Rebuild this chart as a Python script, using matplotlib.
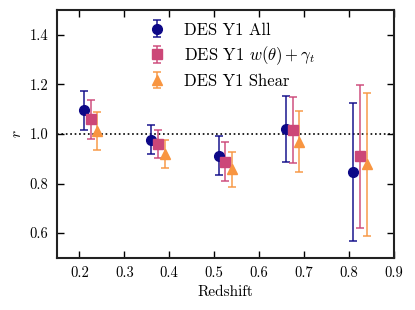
import matplotlib
matplotlib.use("Agg")
import matplotlib.pyplot as plt
from matplotlib.font_manager import FontProperties

# ---- data ----
z_all = [0.21, 0.36, 0.51, 0.66, 0.81]
r_all = [1.095, 0.976, 0.912, 1.019, 0.846]
e_all = [0.080, 0.058, 0.078, 0.134, 0.277]

z_wg = [0.225, 0.375, 0.525, 0.675, 0.825]
r_wg = [1.059, 0.958, 0.888, 1.017, 0.909]
e_wg = [0.079, 0.056, 0.078, 0.133, 0.288]

z_sh = [0.24, 0.39, 0.54, 0.69, 0.84]
r_sh = [1.012, 0.919, 0.857, 0.969, 0.877]
e_sh = [0.075, 0.057, 0.072, 0.123, 0.288]

labels = ["DES Y1 All", r"DES Y1 $w(\theta)+\gamma_t$", "DES Y1 Shear"]
xticks = [0.2, 0.3, 0.4, 0.5, 0.6, 0.7, 0.8, 0.9]
yticks = [0.6, 0.8, 1.0, 1.2, 1.4]

plt.rcParams['font.family'] = ['cmr10', 'DejaVu Serif']
plt.rcParams['mathtext.fontset'] = 'cm'
plt.rcParams['axes.unicode_minus'] = False
plt.rcParams['axes.formatter.use_mathtext'] = True

fig = plt.figure(figsize=(4.15, 3.10), dpi=100)
ax = fig.add_axes([0.137, 0.168, 0.812, 0.8])

c_all = '#0d0887'
c_wg = '#cc4778'
c_sh = '#f89540'

ax.axhline(1.0, color='black', ls=':', lw=1.2, zorder=1)

for z, r, e, c, m, ms, lab in [
    (z_all, r_all, e_all, c_all, 'o', 7, labels[0]),
    (z_wg, r_wg, e_wg, c_wg, 's', 6.5, labels[1]),
    (z_sh, r_sh, e_sh, c_sh, '^', 7, labels[2]),
]:
    eb = ax.errorbar(z, r, yerr=e, fmt=m, color=c, ms=ms, mec=c,
                     ecolor=c, elinewidth=1.3, capsize=3.2, capthick=1.3,
                     label=lab, zorder=3)
    for art in eb[1] + eb[2]:
        art.set_alpha(0.8)

ax.set_xlim(0.15, 0.9)
ax.set_ylim(0.5, 1.5)
ax.set_xticks(xticks)
ax.set_yticks(yticks)
ax.set_xticklabels([f"{t:.1f}" for t in xticks])
ax.set_yticklabels([f"{t:.1f}" for t in yticks])
ax.tick_params(direction='in', top=True, right=True, length=5, width=1,
               labelsize=10.5, pad=6)
for s in ax.spines.values():
    s.set_linewidth(1.5)
    s.set_color('#222222')

ax.set_xlabel("Redshift", fontsize=11)
ax.set_ylabel(r"$r$", fontsize=11)

leg = ax.legend(loc='upper left', bbox_to_anchor=(0.26, 0.95), frameon=False,
                prop=FontProperties(family='cmr10', size=12),
                handletextpad=0.9, labelspacing=0.4, handlelength=1.5,
                borderaxespad=0.0, borderpad=0.0)

fig.savefig("out.png", dpi=100)
